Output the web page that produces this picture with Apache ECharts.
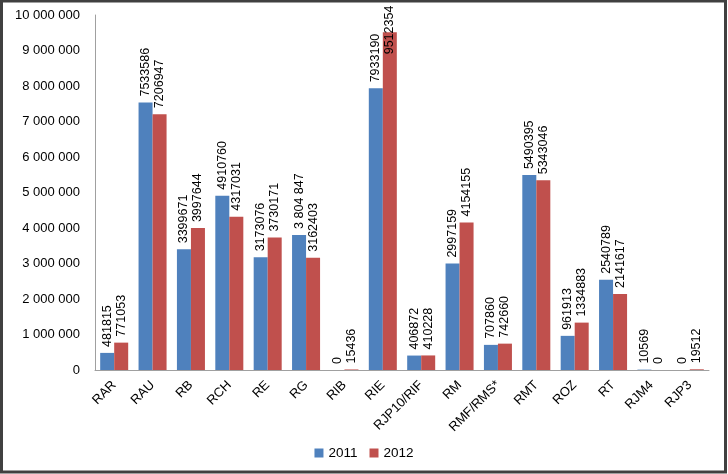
<!DOCTYPE html>
<html><head><meta charset="utf-8">
<script src="https://cdn.jsdelivr.net/npm/echarts@6/dist/echarts.min.js"></script>
<style>html,body{margin:0;padding:0;background:#fff}#c{width:728px;height:474px}</style>
</head><body><div id="c"></div>
<script>
const categories = ['RAR','RAU','RB','RCH','RE','RG','RIB','RIE','RJP10/RIF','RM','RMF/RMS*','RMT','ROZ','RT','RJM4','RJP3'];
const values2011 = [481815, 7533586, 3399671, 4910760, 3173076, 3804847, 0, 7933190, 406872, 2997159, 707860, 5490395, 961913, 2540789, 10569, 0];
const values2012 = [771053, 7206947, 3997644, 4317031, 3730171, 3162403, 15436, 9512354, 410228, 4154155, 742660, 5343046, 1334883, 2141617, 0, 19512];
const labels2011 = ['481815','7533586','3399671','4910760','3173076','3 804 847','0','7933190','406872','2997159','707860','5490395','961913','2540789','10569','0'];
const labels2012 = ['771053','7206947','3997644','4317031','3730171','3162403','15436','9512354','410228','4154155','742660','5343046','1334883','2141617','0','19512'];
const yTicks = ['0','1 000 000','2 000 000','3 000 000','4 000 000','5 000 000','6 000 000','7 000 000','8 000 000','9 000 000','10 000 000'];

const FONT = 'Liberation Sans';
const labelBase = {
  show: true, position: 'top', rotate: 90, align: 'left', verticalAlign: 'middle',
  distance: 6, fontSize: 12.5, fontFamily: FONT, color: '#000'
};
function mk(vals, labs, name, color) {
  return {
    name: name, type: 'bar', barGap: '0%', barCategoryGap: '27%',
    itemStyle: { color: color },
    label: Object.assign({}, labelBase, { formatter: p => labs[p.dataIndex] }),
    data: vals.map((v, i) => {
      const o = { value: v };
      if (v > 9000000) o.label = { offset: [-28, 0] };
      return o;
    })
  };
}
const chart = echarts.init(document.getElementById('c'), null, { renderer: 'canvas' });
chart.setOption({
  animation: false,
  backgroundColor: '#fff',
  graphic: [{
    type: 'rect', shape: { x: 1.5, y: 1, width: 724, height: 471 },
    style: { fill: 'none', stroke: '#404040', lineWidth: 3 }, silent: true, z: 100
  }],
  grid: { left: 95, right: 19, top: 15, bottom: 104, containLabel: false },
  legend: {
    bottom: 9, left: 'center', icon: 'rect', itemWidth: 9, itemHeight: 9, itemGap: 12,
    textStyle: { fontFamily: FONT, fontSize: 13.5, color: '#000' },
    data: ['2011', '2012']
  },
  xAxis: {
    type: 'category', data: categories,
    axisLine: { lineStyle: { color: '#a0a0a0', width: 1 } },
    axisTick: { show: false },
    axisLabel: { rotate: 45, interval: 0, margin: 13, fontFamily: FONT, fontSize: 13, color: '#000' }
  },
  yAxis: {
    type: 'value', min: 0, max: 10000000, interval: 1000000,
    splitLine: { show: false },
    axisLine: { show: true, lineStyle: { color: '#a0a0a0', width: 1 } },
    axisTick: { show: false },
    axisLabel: { margin: 15, fontFamily: FONT, fontSize: 13, color: '#000',
      formatter: (v) => yTicks[Math.round(v / 1000000)] }
  },
  series: [
    mk(values2011, labels2011, '2011', '#4F81BD'),
    mk(values2012, labels2012, '2012', '#C0504D')
  ]
});
</script></body></html>
